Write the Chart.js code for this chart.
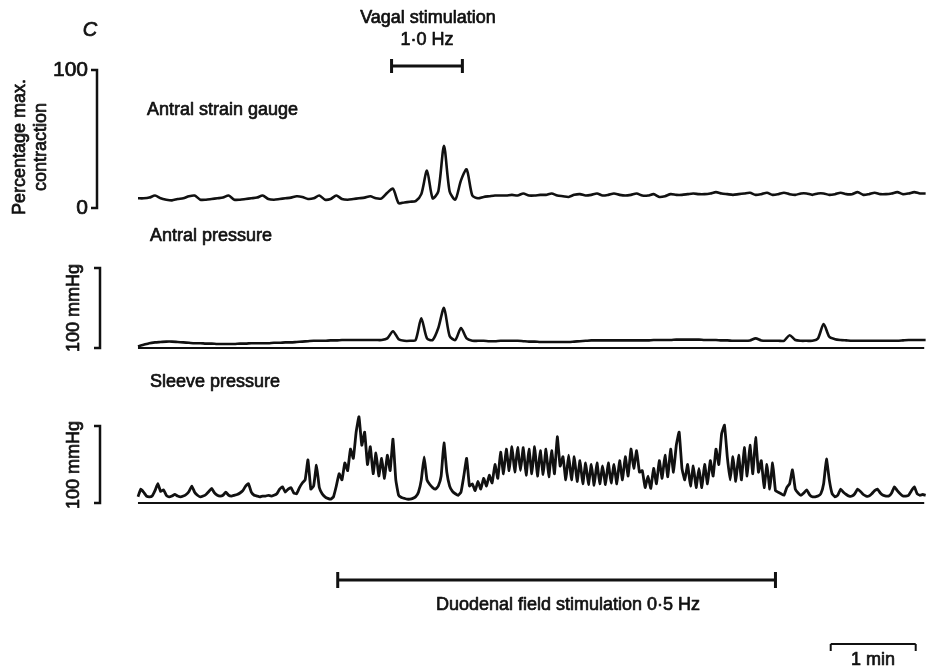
<!DOCTYPE html>
<html>
<head>
<meta charset="utf-8">
<script src="https://cdn.jsdelivr.net/npm/chart.js@4.4.1/dist/chart.umd.min.js"></script>
<style>
  body { margin: 0; background: #fff; }
  #wrap { width: 932px; height: 669px; }
</style>
</head>
<body>
<div id="wrap"><canvas id="trace" width="932" height="669"></canvas></div>
<script>
// sampling interval of each trace, seconds
const strainStep = 4;
const antralStep = 4;
const sleeveStep = 2;

// antral strain gauge, % max. contraction
const strainGauge = [
  7, 7, 7.5, 9, 7, 6, 5.5, 6.5, 7, 8.5,
  9, 6, 6, 6.5, 7, 7.5, 9, 6, 6, 6.5,
  7, 7.5, 9, 6.5, 6, 6.5, 7, 7.5, 8.5, 8,
  6.5, 7, 9, 6, 6.5, 9, 6.5, 6, 6.5, 7,
  7.5, 8.5, 7, 7, 11, 14, 3.5, 4, 4.5, 5,
  10, 27, 7, 12, 45, 12, 6, 20, 28, 9,
  7, 8, 8.5, 9, 9, 9, 9.5, 9, 10.5, 9,
  9, 9.5, 9.5, 10.5, 9, 8.5, 8, 9.5, 10, 9,
  9.5, 10.5, 9, 9.5, 10.5, 9.5, 9, 9.5, 10.5, 9,
  9, 10, 8, 8.5, 10, 9.5, 9.5, 10, 10.5, 10,
  10, 10.5, 11.5, 10.5, 10, 9.5, 10, 10.5, 11, 9.5,
  10, 11, 9.5, 10, 11, 10, 9.5, 10.5, 10.5, 9.5,
  10.5, 10.5, 9.5, 10, 11, 10, 10, 11.5, 9.5, 10,
  11, 10, 10, 10.5, 11.5, 10, 10.5, 11.5, 10.5, 10.5
];

// antral pressure, mmHg
const antralPressure = [
  2, 4, 6, 7, 7.5, 8, 8, 7.5, 7, 6.5,
  6, 6, 5.5, 5.5, 5, 5, 5, 5, 5.5, 5.5,
  6, 6, 6, 6, 6.5, 6.5, 7, 7, 7.5, 8,
  8.5, 9, 9, 9, 9.5, 9.5, 10, 10, 10, 10,
  10, 10, 10, 10, 12, 21, 11, 9, 9, 10,
  37, 12, 10, 25, 50, 15, 10, 25, 12, 9,
  9, 9, 8.5, 8.5, 9, 9, 9, 9, 8.5, 8,
  8, 7.5, 7.5, 7.5, 7.5, 7.5, 7.5, 8, 8.5, 9,
  9.5, 9.5, 9.5, 9.5, 9.5, 9.5, 9.5, 9.5, 9.5, 9.5,
  9.5, 10, 10, 10, 10, 10.5, 10.5, 10.5, 10.5, 10.5,
  10, 10, 10, 9.5, 9.5, 9, 9, 9, 9.5, 12,
  9.5, 9, 9, 9, 9, 16, 10, 9, 9, 9,
  12, 30, 14, 11, 10, 9.5, 9, 9, 9, 9,
  9, 9, 9, 9, 9, 9.5, 10, 10, 10, 10
];

// sleeve pressure, mmHg
const sleevePressure = [
  8, 18, 14, 9, 8, 9, 16, 25, 15, 17,
  10, 8, 9, 11, 9, 8, 9, 11, 15, 22,
  14, 10, 8, 9, 11, 15, 19, 13, 10, 9,
  10, 14, 10, 9, 10, 11, 13, 16, 22, 25,
  14, 10, 9, 8, 9, 9, 10, 9, 10, 12,
  18, 21, 14, 18, 20, 13, 12, 20, 26, 30,
  56, 18, 22, 49, 20, 12, 8, 6, 5, 8,
  22, 38, 30, 52, 42, 70, 58, 92, 112, 75,
  92, 50, 73, 38, 65, 35, 58, 32, 62, 42,
  83, 30, 10, 7, 6, 5, 5, 6, 8, 14,
  30, 60, 30, 24, 20, 18, 22, 35, 78, 40,
  22, 15, 12, 10, 14, 35, 58, 22, 25, 16,
  28, 18, 32, 22, 36, 26, 50, 32, 66, 38,
  70, 42, 73, 40, 72, 42, 72, 36, 70, 38,
  73, 35, 68, 37, 70, 34, 68, 38, 86, 48,
  60, 30, 62, 30, 60, 28, 55, 25, 52, 24,
  50, 23, 52, 25, 48, 24, 52, 26, 50, 25,
  55, 30, 60, 35, 70, 45, 68, 40, 42, 20,
  35, 19, 45, 25, 55, 32, 62, 34, 70, 40,
  75, 92, 45, 30, 50, 22, 48, 20, 45, 20,
  50, 25, 55, 35, 70, 50, 90, 101, 60, 30,
  60, 28, 62, 30, 72, 35, 75, 38, 85, 40,
  55, 20, 50, 18, 52, 16, 14, 12, 10, 20,
  25, 43, 18, 13, 10, 13, 17, 11, 8, 8,
  9, 12, 25, 57, 30, 12, 8, 10, 18, 14,
  11, 9, 9, 12, 18, 15, 11, 9, 9, 12,
  16, 18, 13, 10, 9, 9, 13, 21, 16, 12,
  9, 9, 10, 16, 21, 12, 10, 11, 10
];

// event markers, seconds from start of record
const recordSpan = [0, 555];
const vagalStim = [179, 229];
const duodenalStim = [141, 450];
const minuteBar = [489, 549];

function toPoints(values, step) {
  return values.map((v, i) => ({ x: i * step, y: v }));
}
const zeroLine = recordSpan.map(t => ({ x: t, y: 0 }));

const FONT = '"Liberation Sans", Arial, sans-serif';

// printed labels are heavy, so fill and add a thin stroke
function text(ctx, str, x, y) {
  ctx.fillText(str, x, y);
  ctx.strokeText(str, x, y);
}

function rotText(ctx, str, x, y) {
  ctx.save();
  ctx.translate(x, y);
  ctx.rotate(-Math.PI / 2);
  text(ctx, str, 0, 0);
  ctx.restore();
}

function hBar(ctx, x1, x2, y, cap) {
  ctx.beginPath();
  ctx.moveTo(x1, y); ctx.lineTo(x2, y);
  ctx.stroke();
  ctx.beginPath();
  ctx.moveTo(x1, y - cap.up); ctx.lineTo(x1, y + cap.down);
  ctx.moveTo(x2, y - cap.up); ctx.lineTo(x2, y + cap.down);
  ctx.stroke();
}

function vBar(ctx, x, yTop, yBot) {
  ctx.beginPath();
  ctx.moveTo(x - 6, yTop); ctx.lineTo(x, yTop);
  ctx.lineTo(x, yBot); ctx.lineTo(x - 6, yBot);
  ctx.stroke();
}

const labels = {
  id: 'labels',
  afterDatasetsDraw(chart) {
    const { ctx } = chart;
    const { x, ys, ya, yl } = chart.scales;
    ctx.save();
    ctx.strokeStyle = '#111';
    ctx.fillStyle = '#111';
    ctx.lineJoin = 'round';

    // panel letter and text labels
    ctx.lineWidth = 0.7;
    ctx.textBaseline = 'middle';
    ctx.textAlign = 'center';
    ctx.font = 'italic 20px ' + FONT;
    text(ctx, 'C', 90, 30);
    ctx.font = '18px ' + FONT;
    text(ctx, 'Vagal stimulation', 428, 18);
    text(ctx, '1·0 Hz', 427, 40);
    text(ctx, 'Duodenal field stimulation 0·5 Hz', 568, 605);
    text(ctx, '1 min', 873, 660);
    rotText(ctx, 'Percentage max.', 20, 147);
    rotText(ctx, 'contraction', 41, 147);
    rotText(ctx, '100 mmHg', 74, 308);
    rotText(ctx, '100 mmHg', 74, 465);
    ctx.textAlign = 'left';
    text(ctx, 'Antral strain gauge', 147, 110);
    text(ctx, 'Antral pressure', 150, 236);
    text(ctx, 'Sleeve pressure', 150, 382);
    ctx.textAlign = 'right';
    ctx.font = '21px ' + FONT;
    text(ctx, '100', 88, 70);
    text(ctx, '0', 88, 208);

    // vertical scale bars
    ctx.lineJoin = 'miter';
    ctx.lineWidth = 2.5;
    vBar(ctx, 97, ys.getPixelForValue(100), ys.getPixelForValue(0));
    vBar(ctx, 100, ya.getPixelForValue(100), ya.getPixelForValue(0));
    vBar(ctx, 100, yl.getPixelForValue(100), yl.getPixelForValue(0));

    // stimulation and time bars
    ctx.lineWidth = 3;
    hBar(ctx, x.getPixelForValue(vagalStim[0]), x.getPixelForValue(vagalStim[1]), 66, { up: 7, down: 7 });
    hBar(ctx, x.getPixelForValue(duodenalStim[0]), x.getPixelForValue(duodenalStim[1]), 580, { up: 8, down: 8 });
    ctx.lineWidth = 2;
    hBar(ctx, x.getPixelForValue(minuteBar[0]), x.getPixelForValue(minuteBar[1]), 644, { up: 0, down: 7 });
    ctx.restore();
  }
};

const lineStyle = {
  borderColor: '#111',
  borderWidth: 2.6,
  pointRadius: 0,
  tension: 0.25,
  fill: false
};

new Chart(document.getElementById('trace'), {
  type: 'line',
  data: {
    datasets: [
      { ...lineStyle, label: 'Antral strain gauge', yAxisID: 'ys', data: toPoints(strainGauge, strainStep) },
      { ...lineStyle, label: 'Antral zero', yAxisID: 'ya', borderWidth: 2, tension: 0, data: zeroLine },
      { ...lineStyle, label: 'Antral pressure', yAxisID: 'ya', data: toPoints(antralPressure, antralStep) },
      { ...lineStyle, label: 'Sleeve zero', yAxisID: 'yl', borderWidth: 2, tension: 0, data: zeroLine },
      { ...lineStyle, label: 'Sleeve pressure', yAxisID: 'yl', borderWidth: 2.8, tension: 0.12, data: toPoints(sleevePressure, sleeveStep) }
    ]
  },
  options: {
    responsive: false,
    animation: false,
    layout: { padding: 0 },
    plugins: {
      legend: { display: false },
      tooltip: { enabled: false }
    },
    scales: {
      x: { type: 'linear', display: false, min: -97.4, max: 560.5 },
      ys: { display: false, min: -334.1, max: 150.7 },
      ya: { display: false, min: -401.25, max: 435 },
      yl: { display: false, min: -215.6, max: 653.2 }
    }
  },
  plugins: [labels]
});
</script>
</body>
</html>
